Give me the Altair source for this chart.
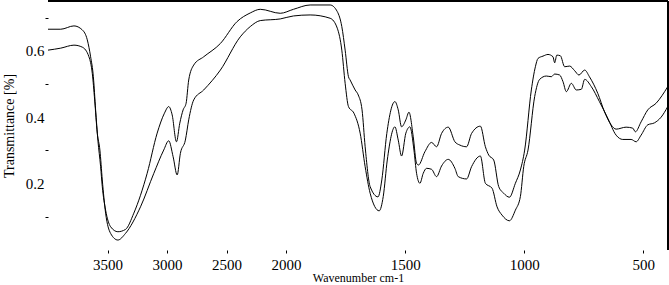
import altair as alt
import pandas as pd

# Upper spectrum (wavenumber cm-1, transmittance)
wn_upper = [4000, 3893, 3782, 3712, 3670, 3642, 3619, 3600, 3581, 3558, 3544, 3516, 3474, 3413,
            3349, 3279, 3167, 3083, 3022, 2986, 2957, 2921, 2893, 2865, 2840, 2818, 2776, 2692,
            2552, 2412, 2301, 2217, 2049, 1969, 1899, 1815, 1785, 1766, 1752, 1738, 1731, 1710,
            1697, 1681, 1668, 1647, 1614, 1598, 1577, 1543, 1529, 1515, 1497, 1484, 1466, 1452,
            1444, 1417, 1389, 1368, 1347, 1319, 1291, 1270, 1242, 1221, 1184, 1163, 1149, 1128,
            1107, 1086, 1062, 1037, 1016, 998, 970, 953, 942, 921, 900, 879, 872, 863, 848, 830,
            809, 788, 770, 746, 726, 691, 663, 635, 614, 572, 544, 533, 509, 481, 446, 397]
tr_upper = [0.665, 0.665, 0.675, 0.663, 0.633, 0.582, 0.522, 0.422, 0.331, 0.251, 0.191, 0.120,
            0.070, 0.055, 0.062, 0.111, 0.231, 0.352, 0.412, 0.432, 0.407, 0.326, 0.382, 0.422,
            0.442, 0.512, 0.557, 0.582, 0.622, 0.688, 0.714, 0.725, 0.713, 0.725, 0.738, 0.738,
            0.718, 0.673, 0.602, 0.522, 0.512, 0.482, 0.467, 0.422, 0.311, 0.191, 0.160, 0.211,
            0.351, 0.447, 0.422, 0.371, 0.392, 0.415, 0.341, 0.261, 0.256, 0.296, 0.324, 0.311,
            0.351, 0.370, 0.326, 0.316, 0.311, 0.351, 0.373, 0.311, 0.286, 0.271, 0.191, 0.171,
            0.159, 0.201, 0.241, 0.301, 0.482, 0.552, 0.577, 0.584, 0.589, 0.582, 0.564, 0.587,
            0.585, 0.552, 0.554, 0.540, 0.527, 0.542, 0.522, 0.472, 0.417, 0.377, 0.364, 0.370,
            0.367, 0.356, 0.386, 0.422, 0.442, 0.492]

# Lower spectrum
wn_lower = [4000, 3893, 3782, 3712, 3656, 3628, 3608, 3586, 3564, 3544, 3516, 3474, 3413, 3349,
            3223, 3111, 3028, 2986, 2949, 2915, 2888, 2846, 2818, 2776, 2692, 2552, 2385, 2301,
            2217, 2049, 1969, 1899, 1815, 1785, 1766, 1752, 1738, 1715, 1689, 1668, 1647, 1609,
            1592, 1575, 1543, 1529, 1515, 1497, 1480, 1463, 1452, 1438, 1424, 1410, 1389, 1368,
            1347, 1319, 1291, 1277, 1242, 1221, 1184, 1163, 1135, 1114, 1093, 1062, 1037, 1016,
            1002, 984, 956, 935, 907, 886, 872, 851, 837, 823, 802, 781, 760, 746, 718, 684, 649,
            614, 586, 551, 530, 509, 481, 453, 425, 397]
tr_lower = [0.602, 0.608, 0.617, 0.611, 0.582, 0.532, 0.452, 0.352, 0.301, 0.211, 0.111, 0.050,
            0.030, 0.050, 0.130, 0.231, 0.301, 0.329, 0.281, 0.226, 0.291, 0.331, 0.392, 0.452,
            0.482, 0.542, 0.642, 0.673, 0.691, 0.696, 0.705, 0.708, 0.698, 0.668, 0.602, 0.502,
            0.432, 0.412, 0.352, 0.251, 0.171, 0.118, 0.161, 0.271, 0.371, 0.331, 0.283, 0.352,
            0.371, 0.301, 0.231, 0.201, 0.231, 0.246, 0.243, 0.221, 0.253, 0.273, 0.246, 0.221,
            0.214, 0.251, 0.283, 0.201, 0.186, 0.130, 0.105, 0.088, 0.120, 0.161, 0.251, 0.301,
            0.462, 0.514, 0.524, 0.522, 0.530, 0.527, 0.507, 0.477, 0.502, 0.482, 0.484, 0.514,
            0.492, 0.447, 0.397, 0.346, 0.333, 0.333, 0.326, 0.346, 0.377, 0.383, 0.400, 0.432]

x_tick_values = [3500, 3000, 2500, 2000, 1500, 1000, 500]
y_tick_values = [0.1, 0.2, 0.3, 0.4, 0.5, 0.6, 0.7]

df = pd.concat([
    pd.DataFrame({"wn": wn_upper, "tr": tr_upper, "series": "upper"}),
    pd.DataFrame({"wn": wn_lower, "tr": tr_lower, "series": "lower"}),
], ignore_index=True)

# axis is compressed 2:1 above 2000 cm-1
def squash(w):
    return w if w <= 2000 else 1000 + w / 2

x_axis_positions = [squash(v) for v in x_tick_values]

FONT = "Liberation Serif"

lines = alt.Chart(df).transform_calculate(
    t="datum.wn <= 2000 ? datum.wn : 1000 + datum.wn / 2"
).mark_line(color="black", strokeWidth=1, clip=True, interpolate="monotone").encode(
    x=alt.X("t:Q",
            scale=alt.Scale(domain=[396, 3000], reverse=True, nice=False, zero=False),
            axis=alt.Axis(values=x_axis_positions,
                          labelExpr="datum.value > 2000 ? '' + (2 * datum.value - 2000) : '' + datum.value",
                          title="Wavenumber cm-1", domain=False, grid=False,
                          tickSize=3, tickColor="black", labelColor="black",
                          labelFont=FONT, labelFontSize=15, labelPadding=4,
                          titleFont=FONT, titleFontSize=12, titleFontWeight="normal",
                          titleColor="black", titlePadding=0)),
    y=alt.Y("tr:Q",
            scale=alt.Scale(domain=[0, 0.75], nice=False, zero=False),
            axis=alt.Axis(values=y_tick_values,
                          labelExpr="round(datum.value * 10) % 2 == 0 ? format(datum.value, '.1f') : ''",
                          tickOpacity={"condition": {"test": "round(datum.value * 10) % 2 == 0", "value": 0}, "value": 1},
                          title="Transmittance [%]", domain=False, grid=False,
                          tickSize=3, tickColor="black", labelColor="black",
                          labelFont=FONT, labelFontSize=15, labelPadding=1,
                          titleFont=FONT, titleFontSize=14, titleFontWeight="normal",
                          titleColor="black", titlePadding=9)),
    detail="series:N",
)

top_border = alt.Chart(df).mark_rule(color="black", strokeWidth=1.5).encode(
    x=alt.value(0), x2=alt.value(620), y=alt.value(0)
)
right_border = alt.Chart(df).mark_rule(color="black", strokeWidth=1.5).encode(
    x=alt.value(620), y=alt.value(0), y2=alt.value(249)
)

chart = alt.layer(lines, top_border, right_border).properties(
    width=620, height=249,
    padding={"left": 48, "right": 1, "top": 1, "bottom": 35},
    autosize=alt.AutoSizeParams(type="none"),
    background="white",
).configure_view(strokeWidth=0)

chart.save("out.html", embed_options={"renderer": "svg", "actions": False})
